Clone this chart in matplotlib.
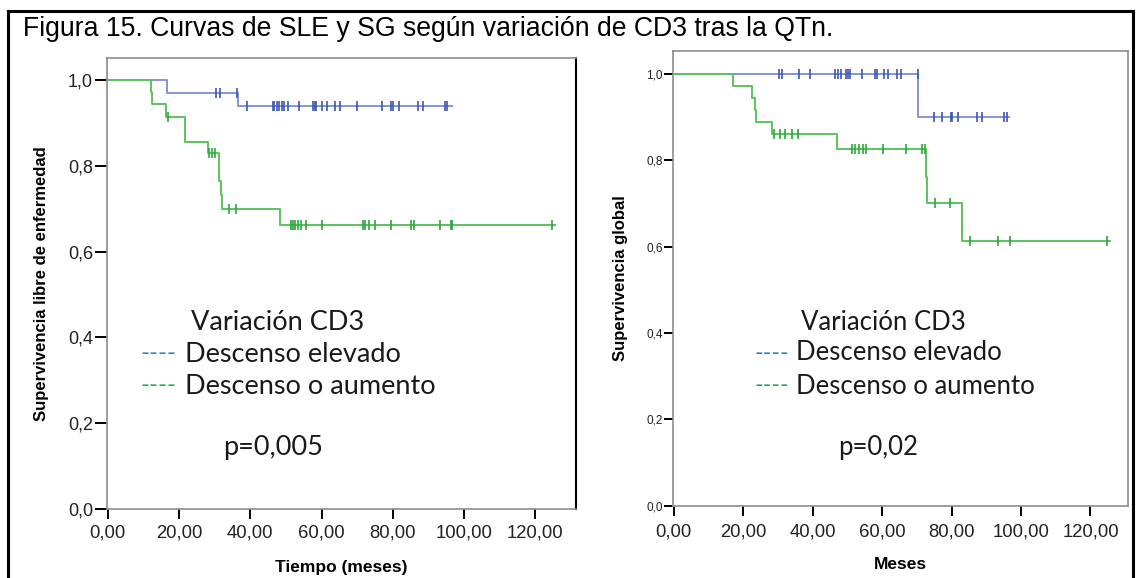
import matplotlib
matplotlib.use("Agg")
import matplotlib.pyplot as plt
from matplotlib.lines import Line2D
import numpy as np

plt.rcParams['font.family'] = ['Liberation Sans', 'DejaVu Sans']

# ---- data ----
# SLE (left panel)
sle_blue_t = [0, 16.5, 36.6, 96.5]
sle_blue_s = [1.0, 0.969, 0.938, 0.938]
sle_blue_cens = [30.4, 31.5, 36.2, 39.0, 46.3, 46.6, 47.4, 48.0, 48.8, 49.5, 50.5, 53.7,
                 57.7, 58.2, 58.4, 60.0, 61.6, 63.8, 65.2, 69.8, 76.9, 79.5, 80.1, 81.7,
                 87.0, 88.4, 94.6, 95.3]

sle_green_t = [0, 12.1, 12.4, 16.2, 21.6, 21.8, 28.0, 31.1, 31.8, 32.1, 48.2, 125.6]
sle_green_s = [1.0, 0.971, 0.943, 0.914, 0.885, 0.856, 0.829, 0.765, 0.732, 0.699, 0.662, 0.662]
sle_green_cens = [17.0, 28.5, 29.2, 30.0, 33.9, 36.0, 51.3, 51.9, 52.6, 53.4, 54.1, 55.5,
                  60.2, 71.6, 72.3, 73.2, 75.0, 79.6, 85.1, 85.8, 93.2, 96.2, 96.7, 124.6]

# SG (right panel)
sg_blue_t = [0, 70.4, 96.4]
sg_blue_s = [1.0, 0.901, 0.901]
sg_blue_cens = [30.4, 31.3, 36.1, 39.2, 46.4, 47.2, 48.1, 49.5, 50.2, 50.8, 54.1, 58.0,
                58.4, 60.4, 61.8, 64.2, 65.5, 70.3, 74.9, 77.3, 79.7, 80.2, 81.9, 87.3,
                88.8, 95.2, 96.0]

sg_green_t = [0, 17.0, 22.5, 23.3, 23.7, 28.3, 46.9, 72.5, 73.0, 83.1, 125.7]
sg_green_s = [1.0, 0.972, 0.944, 0.916, 0.888, 0.861, 0.826, 0.762, 0.700, 0.612, 0.612]
sg_green_cens = [29.0, 30.6, 32.1, 34.1, 35.7, 51.3, 52.1, 53.4, 54.4, 55.5, 60.2, 67.0,
                 71.6, 72.4, 75.1, 79.5, 85.4, 93.5, 96.8, 124.7]

x_ticks = [0, 20, 40, 60, 80, 100, 120]
y_ticks = [0.0, 0.2, 0.4, 0.6, 0.8, 1.0]

title = "Figura 15. Curvas de SLE y SG según variación de CD3 tras la QTn."
legend_title = "Variación CD3"
group_names = ["Descenso elevado", "Descenso o aumento"]

BLUE_LINE, BLUE_MARK = "#8595d4", "#3d56b4"
GREEN_LINE, GREEN_MARK = "#5cc45c", "#27a83a"
W, H = 1136, 578


def surv_at(times, surv, t):
    #survival value of the step curve at time t
    idx = np.searchsorted(times, t, side="right") - 1
    return np.array(surv)[idx]


def draw_km(ax, times, surv, cens, line_col, mark_col):
    ax.step(times, surv, where="post", color=line_col, lw=1.4, zorder=3)
    ax.plot(cens, surv_at(times, surv, cens), ls="none", marker="|", ms=7, mew=1.2,
            color=mark_col, zorder=4)


def style_axes(ax, xmax, ymax, ylabel, xlabel, yfs, xfs, ytl, ypad, xpad, right_col):
    ax.set_xlim(-0.3, xmax)
    ax.set_ylim(0, ymax)
    ax.set_xticks(x_ticks)
    ax.set_xticklabels([f"{v:.2f}".replace(".", ",") for v in x_ticks], fontsize=xfs, color="#222222")
    ax.set_yticks(y_ticks)
    ax.set_yticklabels([f"{v:.1f}".replace(".", ",") for v in y_ticks], fontsize=yfs, color="#222222")
    ax.tick_params(axis="y", direction="out", length=ytl, width=1.4, pad=ypad, color="black")
    ax.tick_params(axis="x", direction="out", length=7.5, width=1.4, pad=xpad, color="black")
    for s in ["left", "bottom", "top"]:
        ax.spines[s].set_color("#8c8c8c")
        ax.spines[s].set_linewidth(1.2)
    ax.spines["right"].set_color(right_col)
    ax.spines["right"].set_linewidth(1.5 if right_col == "black" else 1.2)
    ax.set_ylabel(ylabel, fontsize=12, fontweight="bold")
    ax.set_xlabel(xlabel, fontsize=12.5, fontweight="bold")


def fx(px):
    return px / W


def fy(py):
    return 1 - py / H


fig = plt.figure(figsize=(W / 100, H / 100), dpi=100)

# left panel: SLE
ax1 = fig.add_axes([fx(106.7), fy(509), (575.7 - 106.7) / W, (509 - 58) / H])
draw_km(ax1, sle_blue_t, sle_blue_s, sle_blue_cens, BLUE_LINE, BLUE_MARK)
draw_km(ax1, sle_green_t, sle_green_s, sle_green_cens, GREEN_LINE, GREEN_MARK)
style_axes(ax1, 131.3, 1.051, "Supervivencia libre de enfermedad", "Tiempo (meses)",
           13, 13.3, 8.4, 1.4, 4, "black")
ax1.yaxis.set_label_coords(fx(49 - 106.7) * W / (575.7 - 106.7), 0.5)
ax1.xaxis.set_label_coords(0.5, -(560 - 509) / (509 - 58))

# right panel: SG
ax2 = fig.add_axes([fx(672.7), fy(505.7), (1128 - 672.7) / W, (505.7 - 51) / H])
draw_km(ax2, sg_blue_t, sg_blue_s, sg_blue_cens, BLUE_LINE, BLUE_MARK)
draw_km(ax2, sg_green_t, sg_green_s, sg_green_cens, GREEN_LINE, GREEN_MARK)
style_axes(ax2, 130.8, 1.053, "Supervivencia global", "Meses",
           8.5, 13.3, 6.5, 0.5, 5.5, "#8c8c8c")
ax2.yaxis.set_label_coords(-(672.7 - 628) / (1128 - 672.7), 0.5)
ax2.xaxis.set_label_coords(0.5, -(557 - 505.7) / (505.7 - 51))

# legends drawn as free text, as in the original
leg_font = ["Lato", "DejaVu Sans"]
txt_col = "#1a1a1a"
for (x_title, y_title, x_dash, x_txt, ys, x_p, y_p, pval, fs) in [
        (191, 322, 141, 185, (354, 386), 223, 448, "p=0,005", 19.5),
        (801, 323, 755, 796, (353, 386), 838, 448, "p=0,02", 18.5)]:
    fig.text(fx(x_title), fy(y_title), legend_title, fontsize=fs, family=leg_font,
             color=txt_col, va="center", ha="left")
    for name, yy, col in zip(group_names, ys, ["#2f7fd0", "#1fae4a"]):
        fig.text(fx(x_dash), fy(yy), "----", fontsize=fs * 0.9, family=leg_font, color=col,
                 va="center", ha="left")
        fig.text(fx(x_txt), fy(yy), name, fontsize=fs, family=leg_font, color=txt_col,
                 va="center", ha="left")
    fig.text(fx(x_p), fy(y_p), pval, fontsize=fs, family=leg_font, color=txt_col,
             va="center", ha="left")

fig.text(fx(23), fy(29), title, fontsize=19.2, ha="left", va="center", color="black")

# outer frame of the figure cell
for xs, ys in [([8, 8], [11, H]), ([8, 1133], [11, 11]), ([1133, 1133], [11, H])]:
    fig.add_artist(Line2D([fx(v) for v in xs], [fy(v) for v in ys], color="black", lw=2.2))

fig.savefig("out.png", dpi=100)
